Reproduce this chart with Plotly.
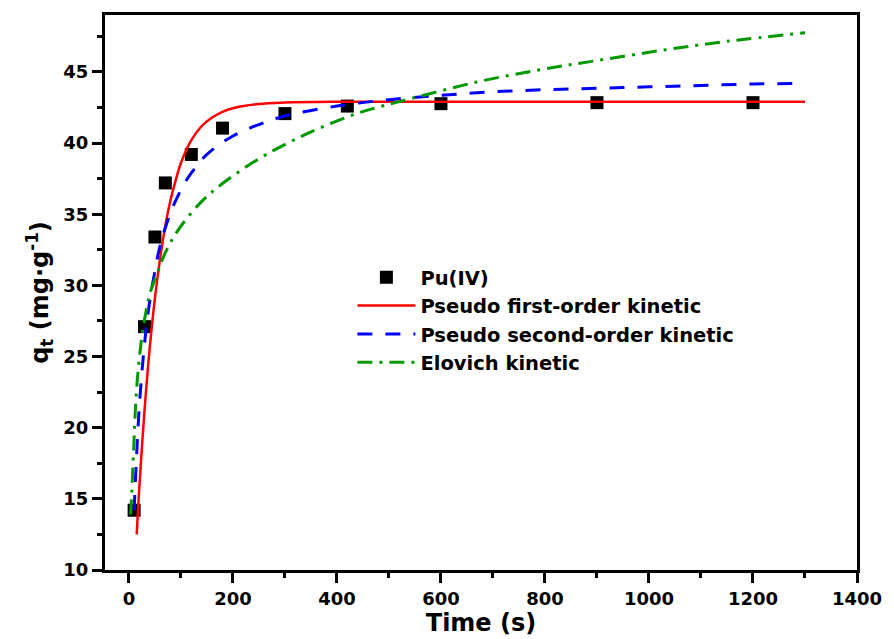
import plotly.graph_objects as go

# Experimental data
t_exp = [10, 30, 50, 70, 120, 180, 300, 420, 600, 900, 1200]
q_exp = [14.2, 27.1, 33.4, 37.2, 39.2, 41.05, 42.07, 42.6, 42.77, 42.84, 42.84]

# Pseudo first-order fit
t_pfo = [15, 20, 30, 40, 50, 60, 70, 80, 90, 100, 120, 140, 160, 180, 200, 250, 300, 400, 600, 800, 1000, 1300]
q_pfo = [12.5, 15.8, 21.2, 25.6, 29.1, 31.9, 34.2, 36.0, 37.4, 38.6, 40.2, 41.2, 41.8, 42.2, 42.45, 42.75, 42.85, 42.9, 42.9, 42.9, 42.9, 42.9]

# Pseudo second-order fit
t_pso = [10, 15, 20, 30, 40, 50, 60, 80, 100, 120, 150, 200, 250, 300, 400, 500, 600, 700, 800, 900, 1000, 1100, 1200, 1300]
q_pso = [14.2, 18.2, 21.5, 25.9, 28.9, 31.0, 32.8, 35.1, 36.7, 37.9, 39.2, 40.5, 41.3, 41.9, 42.6, 43.05, 43.35, 43.6, 43.75, 43.85, 43.95, 44.05, 44.15, 44.2]

# Elovich fit
t_elo = [3, 5, 6.5, 9.5, 11.5, 16, 23.5, 32, 41, 54, 70, 95, 140, 185, 250, 300, 345, 440, 540, 670, 790, 900, 1040, 1150, 1300]
q_elo = [13.9, 15.0, 16.3, 18.8, 20.6, 23.3, 26.0, 28.0, 29.5, 30.8, 32.3, 33.9, 35.9, 37.3, 38.9, 39.9, 40.7, 42.1, 43.1, 44.3, 45.15, 45.8, 46.6, 47.15, 47.75]

x_ticks = [0, 200, 400, 600, 800, 1000, 1200, 1400]
y_ticks = [10, 15, 20, 25, 30, 35, 40, 45]

FONT = "DejaVu Sans"

fig = go.Figure()
fig.add_trace(go.Scatter(x=t_exp, y=q_exp, mode="markers", name="Pu(IV)",
                         marker=dict(symbol="square", size=13, color="black"),
                         legendgroup="a"))
fig.add_trace(go.Scatter(x=t_pfo, y=q_pfo, mode="lines", name="Pseudo first-order kinetic",
                         line=dict(color="#ff0000", width=2.5, shape="spline"), legendgroup="b"))
fig.add_trace(go.Scatter(x=t_pso, y=q_pso, mode="lines", name="Pseudo second-order kinetic",
                         line=dict(color="#0000ff", width=3, dash="15px,13px", shape="spline"), legendgroup="c"))
fig.add_trace(go.Scatter(x=t_elo, y=q_elo, mode="lines", name="Elovich kinetic",
                         line=dict(color="#009900", width=3, dash="15px,7px,3px,7px", shape="spline"), legendgroup="d"))

axis_common = dict(
    showline=True, linecolor="black", linewidth=3, mirror=True,
    ticks="outside", ticklen=10, tickwidth=3, tickcolor="black",
    showgrid=False, zeroline=False,
    tickfont=dict(family=FONT, size=18, color="black", weight="bold"),
)

fig.update_xaxes(range=[-46, 1400], tickvals=x_ticks,
                 minor=dict(dtick=100, ticks="outside", ticklen=5, tickwidth=3, tickcolor="black", tick0=0),
                 title=dict(text="Time (s)", font=dict(family=FONT, size=24, color="black", weight="bold"), standoff=2),
                 **axis_common)
fig.update_yaxes(range=[10, 49], tickvals=y_ticks,
                 minor=dict(dtick=2.5, ticks="outside", ticklen=5, tickwidth=3, tickcolor="black", tick0=10),
                 title=dict(text="q<sub>t</sub> (mg·g<sup>-1</sup>)", font=dict(family=FONT, size=24, color="black", weight="bold"), standoff=8),
                 **axis_common)

fig.update_layout(
    width=894, height=639,
    margin=dict(l=105, r=29, t=14, b=69),
    paper_bgcolor="white", plot_bgcolor="white",
    showlegend=True,
    legend=dict(x=0.329, y=0.562, xanchor="left", yanchor="top",
                bgcolor="rgba(0,0,0,0)", borderwidth=0,
                font=dict(family=FONT, size=19.5, color="black", weight="bold"),
                tracegroupgap=0, itemwidth=58),
)

fig.write_html("out.html")
